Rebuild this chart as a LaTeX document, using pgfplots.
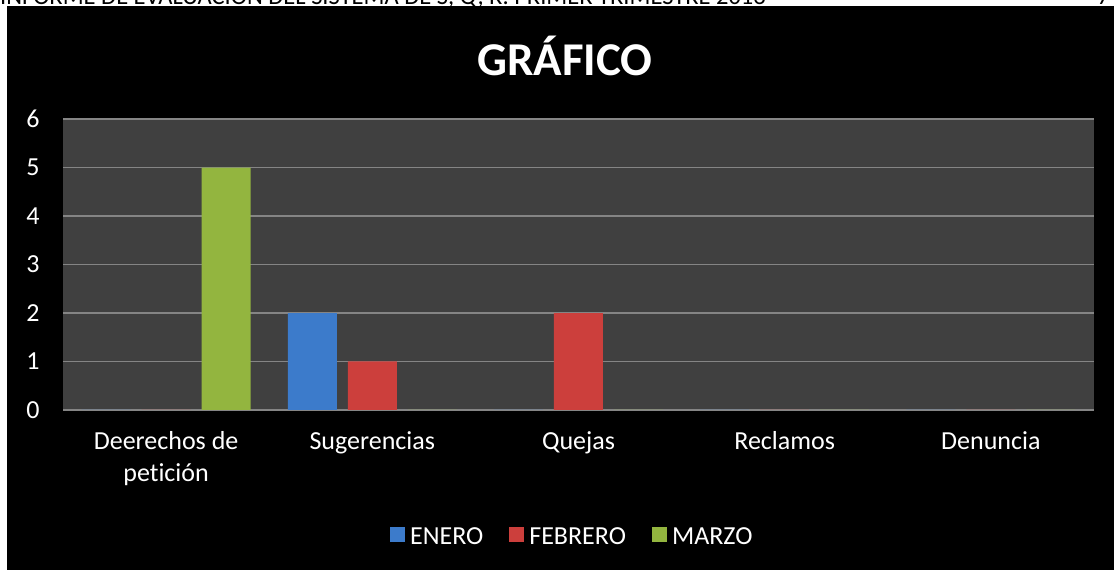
\documentclass[border=0pt]{standalone}
\usepackage{fontspec}
\setmainfont{Carlito}[Ligatures=NoCommon]
\usepackage{pgfplots}
\pgfplotsset{compat=1.18}
\definecolor{bgplot}{HTML}{404040}
\definecolor{gridgray}{HTML}{858585}
\definecolor{cblue}{HTML}{3C7BCB}
\definecolor{cred}{HTML}{CC3F3C}
\definecolor{cgreen}{HTML}{93B53F}
\pgfplotsset{
  mylegend/.style={legend image code/.code={\fill[##1] (0pt,-5pt) rectangle (15pt,10pt);}}
}
\begin{document}
\begin{tikzpicture}[x=1pt,y=1pt]
\useasboundingbox (0,0) rectangle (1114,570);
\fill[white] (0,0) rectangle (1114,570);
\begin{scope}
\clip (0,0) rectangle (1114,570);
\node[anchor=base west, inner sep=0pt, font=\fontsize{24.5}{28}\selectfont] at (0,565) {INFORME DE EVALUACIÓN DEL SISTEMA DE S, Q, R. PRIMER TRIMESTRE 2013};
\node[anchor=base east, inner sep=0pt, font=\fontsize{24.5}{28}\selectfont] at (1110,565) {7};
\end{scope}
\fill[black] (7,0) rectangle (1114,564);
\node[anchor=base, inner sep=0pt, text=white, font=\fontsize{47}{54}\selectfont\bfseries] at (565,494) {GRÁFICO};
\begin{axis}[
  at={(63pt,160pt)}, anchor=south west,
  width=1031pt, height=291pt, scale only axis,
  axis background/.style={fill=bgplot},
  xmin=-0.5, xmax=4.5, ymin=0, ymax=6,
  ybar=11pt, bar width=49pt,
  xtick={0,1,2,3,4},
  xticklabels={{Deerechos de\\petición},Sugerencias,Quejas,Reclamos,Denuncia},
  ytick={0,1,2,3,4,5,6},
  ymajorgrids, grid style={color=gridgray, line width=1.6pt},
  axis line style={draw=none},
  major tick length=0pt,
  /pgf/number format/assume math mode=true,
  tick label style={text=white},
  xticklabel style={align=center, font=\fontsize{26}{32}\selectfont, yshift=-18pt},
  yticklabel style={font=\fontsize{26}{30}\selectfont, xshift=-20pt},
  legend columns=3,
  legend style={at={(0.494,-0.436)}, anchor=center, draw=none, fill=none,
    text=white, font=\fontsize{26}{30}\selectfont,
    /tikz/every odd column/.append style={column sep=3pt},
    /tikz/every even column/.append style={column sep=24pt}},
]
\addplot[fill=cblue, draw=none, mylegend] coordinates {(0,0) (1,2) (2,0) (3,0) (4,0)};
\addplot[fill=cred, draw=none, mylegend] coordinates {(0,0) (1,1) (2,2) (3,0) (4,0)};
\addplot[fill=cgreen, draw=none, mylegend] coordinates {(0,5) (1,0) (2,0) (3,0) (4,0)};
\legend{ENERO,FEBRERO,MARZO}
\end{axis}
\end{tikzpicture}
\end{document}
